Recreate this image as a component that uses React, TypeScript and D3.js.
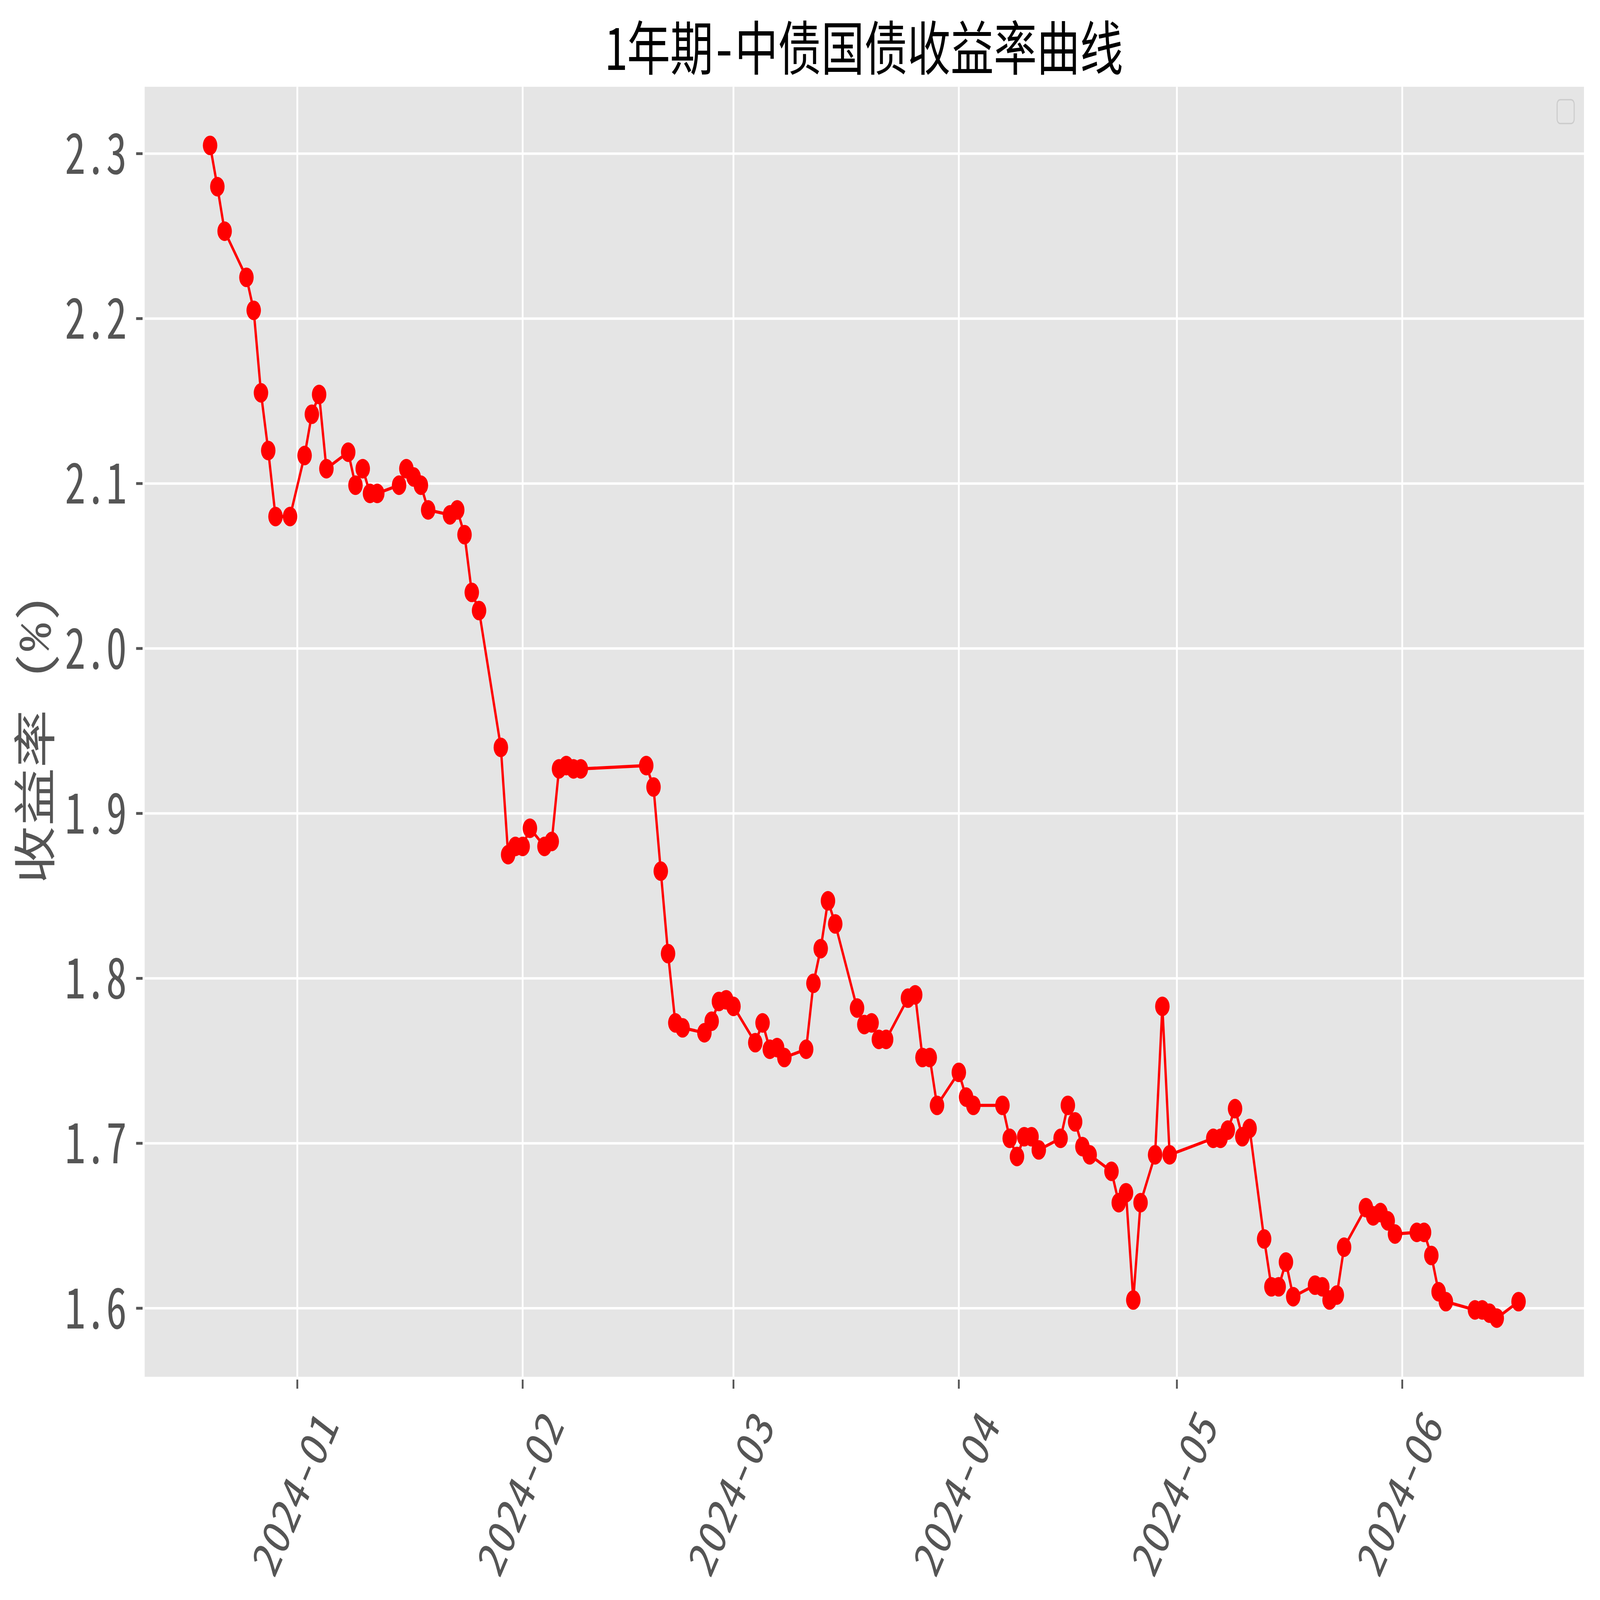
import React, { useEffect } from "react"
import * as d3 from "d3"

// trading dates and 1y CGB yields (%)
const DATES = [
  "2023-12-20", "2023-12-21", "2023-12-22", "2023-12-25", "2023-12-26", "2023-12-27", "2023-12-28", "2023-12-29",
  "2023-12-31", "2024-01-02", "2024-01-03", "2024-01-04", "2024-01-05", "2024-01-08", "2024-01-09", "2024-01-10",
  "2024-01-11", "2024-01-12", "2024-01-15", "2024-01-16", "2024-01-17", "2024-01-18", "2024-01-19", "2024-01-22",
  "2024-01-23", "2024-01-24", "2024-01-25", "2024-01-26", "2024-01-29", "2024-01-30", "2024-01-31", "2024-02-01",
  "2024-02-02", "2024-02-04", "2024-02-05", "2024-02-06", "2024-02-07", "2024-02-08", "2024-02-09", "2024-02-18",
  "2024-02-19", "2024-02-20", "2024-02-21", "2024-02-22", "2024-02-23", "2024-02-26", "2024-02-27", "2024-02-28",
  "2024-02-29", "2024-03-01", "2024-03-04", "2024-03-05", "2024-03-06", "2024-03-07", "2024-03-08", "2024-03-11",
  "2024-03-12", "2024-03-13", "2024-03-14", "2024-03-15", "2024-03-18", "2024-03-19", "2024-03-20", "2024-03-21",
  "2024-03-22", "2024-03-25", "2024-03-26", "2024-03-27", "2024-03-28", "2024-03-29", "2024-04-01", "2024-04-02",
  "2024-04-03", "2024-04-07", "2024-04-08", "2024-04-09", "2024-04-10", "2024-04-11", "2024-04-12", "2024-04-15",
  "2024-04-16", "2024-04-17", "2024-04-18", "2024-04-19", "2024-04-22", "2024-04-23", "2024-04-24", "2024-04-25",
  "2024-04-26", "2024-04-28", "2024-04-29", "2024-04-30", "2024-05-06", "2024-05-07", "2024-05-08", "2024-05-09",
  "2024-05-10", "2024-05-11", "2024-05-13", "2024-05-14", "2024-05-15", "2024-05-16", "2024-05-17", "2024-05-20",
  "2024-05-21", "2024-05-22", "2024-05-23", "2024-05-24", "2024-05-27", "2024-05-28", "2024-05-29", "2024-05-30",
  "2024-05-31", "2024-06-03", "2024-06-04", "2024-06-05", "2024-06-06", "2024-06-07", "2024-06-11", "2024-06-12",
  "2024-06-13", "2024-06-14", "2024-06-17",
]

const YIELDS = [
  2.305, 2.28, 2.253, 2.225, 2.205, 2.155, 2.12, 2.08,
  2.08, 2.117, 2.142, 2.154, 2.109, 2.119, 2.099, 2.109,
  2.094, 2.094, 2.099, 2.109, 2.104, 2.099, 2.084, 2.081,
  2.084, 2.069, 2.034, 2.023, 1.94, 1.875, 1.88, 1.88,
  1.891, 1.88, 1.883, 1.927, 1.929, 1.927, 1.927, 1.929,
  1.916, 1.865, 1.815, 1.773, 1.77, 1.767, 1.774, 1.786,
  1.787, 1.783, 1.761, 1.773, 1.757, 1.758, 1.752, 1.757,
  1.797, 1.818, 1.847, 1.833, 1.782, 1.772, 1.773, 1.763,
  1.763, 1.788, 1.79, 1.752, 1.752, 1.723, 1.743, 1.728,
  1.723, 1.723, 1.703, 1.692, 1.704, 1.704, 1.696, 1.703,
  1.723, 1.713, 1.698, 1.693, 1.683, 1.664, 1.67, 1.605,
  1.664, 1.693, 1.783, 1.693, 1.703, 1.703, 1.708, 1.721,
  1.704, 1.709, 1.642, 1.613, 1.613, 1.628, 1.607, 1.614,
  1.613, 1.605, 1.608, 1.637, 1.661, 1.656, 1.658, 1.653,
  1.645, 1.646, 1.646, 1.632, 1.61, 1.604, 1.599, 1.599,
  1.597, 1.594, 1.604,
]

const Y_TICKS = [1.6, 1.7, 1.8, 1.9, 2.0, 2.1, 2.2, 2.3]
const X_TICKS = ["2024-01", "2024-02", "2024-03", "2024-04", "2024-05", "2024-06"]

const TITLE = "1年期-中债国债收益率曲线"
const Y_LABEL = "收益率 (%)"

// drawn in the reference's pixel space, then stretched to the window
const W = 6194
const H = 4573
const margin = { top: 248, right: W - 6132, bottom: H - 3935, left: 560 }
const MONO = '"Noto Sans Mono CJK SC", "Noto Sans CJK SC", "DejaVu Sans Mono", monospace'

const parseDay = d3.timeParse("%Y-%m-%d")
const parseMonth = d3.timeParse("%Y-%m")

// matplotlib style 5% margins
function padded(lo: number, hi: number) {
  const p = (hi - lo) * 0.05
  return [lo - p, hi + p]
}

export default function App() {
  useEffect(() => {
    document.body.style.margin = "0"
  }, [])

  const data = DATES.map((d, i) => ({ date: parseDay(d)!, value: YIELDS[i] }))

  const [t0, t1] = d3.extent(data, (d) => +d.date) as [number, number]
  const [x0, x1] = padded(t0, t1)
  const x = d3
    .scaleTime()
    .domain([new Date(x0), new Date(x1)])
    .range([margin.left, W - margin.right])

  const [v0, v1] = d3.extent(data, (d) => d.value) as [number, number]
  const y = d3
    .scaleLinear()
    .domain(padded(v0, v1))
    .range([H - margin.bottom, margin.top])

  const line = d3
    .line<{ date: Date; value: number }>()
    .x((d) => x(d.date))
    .y((d) => y(d.value))

  const plotW = W - margin.left - margin.right
  const plotH = H - margin.top - margin.bottom
  const bottom = H - margin.bottom
  const left = margin.left
  const labelY = margin.top + plotH / 2 + 20

  return (
    <svg
      viewBox={`0 0 ${W} ${H}`}
      preserveAspectRatio="none"
      style={{ position: "fixed", left: 0, top: 0, width: "100vw", height: "100vh", background: "#fff" }}
    >
      <rect x={0} y={0} width={W} height={H} fill="#fff" />
      <rect x={left} y={margin.top} width={plotW} height={plotH} fill="#E5E5E5" />

      {/* grid */}
      <g stroke="#fff" strokeWidth={7}>
        {Y_TICKS.map((t) => (
          <line key={"gy" + t} x1={left} x2={left + plotW} y1={y(t)} y2={y(t)} />
        ))}
        {X_TICKS.map((t) => (
          <line key={"gx" + t} x1={x(parseMonth(t)!)} x2={x(parseMonth(t)!)} y1={margin.top} y2={bottom} />
        ))}
      </g>

      {/* empty legend box */}
      <rect x={6028} y={285} width={66} height={68} rx={12} fill="#E5E5E5" stroke="#CCCCCC" strokeWidth={4} />

      {/* series */}
      <path d={line(data) ?? ""} fill="none" stroke="#FF0000" strokeWidth={9} strokeLinejoin="round" />
      <g fill="#FF0000">
        {data.map((d, i) => (
          <circle key={i} cx={x(d.date)} cy={y(d.value)} r={28} />
        ))}
      </g>

      {/* y axis */}
      <g>
        {Y_TICKS.map((t) => (
          <g key={"yt" + t}>
            <line x1={left - 33} x2={left - 8} y1={y(t)} y2={y(t)} stroke="#555555" strokeWidth={8} />
            <text
              x={491}
              y={y(t)}
              dy="0.36em"
              textAnchor="end"
              fontFamily={MONO}
              fontSize={160}
              fill="#555555"
            >
              {t.toFixed(1)}
            </text>
          </g>
        ))}
      </g>

      {/* x axis */}
      <g>
        {X_TICKS.map((t) => {
          const px = x(parseMonth(t)!)
          const cy = bottom + 334
          return (
            <g key={"xt" + t}>
              <line x1={px} x2={px} y1={bottom + 8} y2={bottom + 34} stroke="#555555" strokeWidth={7} />
              <text
                x={px - 7}
                y={cy}
                dy="0.35em"
                textAnchor="middle"
                fontFamily={MONO}
                fontSize={145}
                fill="#555555"
                transform={`rotate(-60, ${px - 7}, ${cy})`}
              >
                {t}
              </text>
            </g>
          )
        })}
      </g>

      <text
        x={196}
        y={labelY}
        textAnchor="middle"
        fontFamily={MONO}
        fontSize={166}
        fill="#555555"
        transform={`rotate(-90, 196, ${labelY})`}
      >
        {Y_LABEL}
      </text>

      <text
        x={left + plotW / 2}
        y={200}
        textAnchor="middle"
        fontFamily={MONO}
        fontSize={167}
        fill="#000"
      >
        {TITLE}
      </text>
    </svg>
  )
}
